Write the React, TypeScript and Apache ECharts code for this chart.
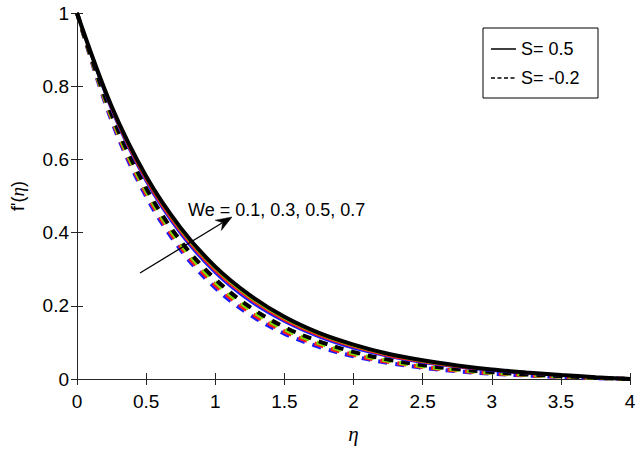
import React, { useEffect, useRef } from "react";
import * as echarts from "echarts";

const eta = [0, 0.25, 0.5, 0.75, 1, 1.25, 1.5, 1.75, 2, 2.25, 2.5, 2.75, 3, 3.25, 3.5, 3.75, 4];

// S = 0.5 (solid), We = 0.1, 0.3, 0.5, 0.7
const solidBlue = [1, 0.733, 0.538, 0.395, 0.289, 0.212, 0.156, 0.114, 0.083, 0.061, 0.044, 0.032, 0.022, 0.015, 0.009, 0.0045, 0];
const solidRed = [1, 0.737, 0.543, 0.401, 0.295, 0.218, 0.16, 0.118, 0.087, 0.063, 0.046, 0.033, 0.024, 0.016, 0.01, 0.005, 0];
const solidGreen = [1, 0.741, 0.549, 0.407, 0.301, 0.223, 0.165, 0.122, 0.09, 0.066, 0.048, 0.035, 0.025, 0.017, 0.01, 0.005, 0];
const solidBlack = [1, 0.745, 0.554, 0.413, 0.307, 0.229, 0.17, 0.126, 0.094, 0.069, 0.051, 0.037, 0.026, 0.018, 0.011, 0.005, 0];

// S = -0.2 (dashed), We = 0.1, 0.3, 0.5, 0.7
const dashBlue = [1, 0.706, 0.499, 0.353, 0.249, 0.176, 0.124, 0.088, 0.062, 0.044, 0.031, 0.021, 0.0144, 0.0095, 0.0058, 0.0026, 0];
const dashRed = [1, 0.712, 0.507, 0.361, 0.257, 0.183, 0.13, 0.093, 0.066, 0.047, 0.033, 0.023, 0.016, 0.0104, 0.0064, 0.003, 0];
const dashGreen = [1, 0.717, 0.514, 0.369, 0.265, 0.19, 0.136, 0.098, 0.07, 0.05, 0.035, 0.025, 0.017, 0.0115, 0.007, 0.0033, 0];
const dashBlack = [1, 0.723, 0.522, 0.377, 0.273, 0.197, 0.142, 0.103, 0.074, 0.053, 0.038, 0.027, 0.019, 0.0125, 0.0077, 0.0036, 0];

const legendLabels = ["S= 0.5", "S= -0.2"];
const annotation = "We = 0.1, 0.3, 0.5, 0.7";

const BLUE = "#1a1aff";
const RED = "#ff1a1a";
const GREEN = "#7ddc00";
const BLACK = "#000000";
const AXIS = "#262626";
const FONT = "'Liberation Sans', Arial, sans-serif";

function pairs(ys: number[]) {
  return eta.map((x, i) => [x, ys[i]]);
}

function solid(name: string, ys: number[], color: string, width: number) {
  return {
    name,
    type: "line",
    data: pairs(ys),
    showSymbol: false,
    smooth: 0.35,
    lineStyle: { color, width, type: "solid" },
    silent: true,
  };
}

function dashed(name: string, ys: number[], color: string) {
  return {
    name,
    type: "line",
    data: pairs(ys),
    showSymbol: false,
    smooth: 0.35,
    lineStyle: { color, width: 4, type: [9, 8] },
    silent: true,
  };
}

export default function App() {
  const ref = useRef<HTMLDivElement>(null);
  useEffect(() => {
    document.body.style.margin = "0";
    if (!ref.current) return;
    const chart = echarts.init(ref.current, undefined, { renderer: "svg" });
    const axisCommon = {
      axisLine: { show: true, lineStyle: { color: AXIS, width: 1 } },
      axisTick: { show: true, inside: true, length: 6, lineStyle: { color: AXIS } },
      splitLine: { show: false },
    };
    const tickFmt = (v: number) => String(Math.round(v * 10) / 10);
    chart.setOption({
      animation: false,
      backgroundColor: "#ffffff",
      grid: { left: 70, right: 10, top: 13, bottom: 66, containLabel: false },
      xAxis: [
        {
          type: "value",
          min: 0,
          max: 4,
          interval: 0.5,
          position: "bottom",
          ...axisCommon,
          axisLabel: { color: "#000", fontSize: 19, fontFamily: FONT, margin: 13, formatter: tickFmt },
          name: "η",
          nameLocation: "middle",
          nameGap: 44,
          nameTextStyle: { color: "#000", fontSize: 21, fontStyle: "italic", fontFamily: "'Liberation Serif', 'DejaVu Serif', serif" },
        },
        {
          type: "value",
          min: 0,
          max: 4,
          interval: 0.5,
          position: "top",
          ...axisCommon,
          axisLabel: { show: false },
        },
      ],
      yAxis: [
        {
          type: "value",
          min: 0,
          max: 1,
          interval: 0.2,
          position: "left",
          ...axisCommon,
          axisLabel: { color: "#000", fontSize: 19, fontFamily: FONT, margin: 8, formatter: tickFmt },
          name: "{a|f'(}{b|η}{a|)}",
          nameLocation: "middle",
          nameGap: 50,
          nameTextStyle: {
            color: "#000",
            rich: {
              a: { fontSize: 18, fontFamily: FONT, color: "#000" },
              b: { fontSize: 19, fontStyle: "italic", fontFamily: "'Liberation Serif', 'DejaVu Serif', serif", color: "#000" },
            },
          },
        },
        {
          type: "value",
          min: 0,
          max: 1,
          interval: 0.2,
          position: "right",
          ...axisCommon,
          axisLabel: { show: false },
        },
      ],
      series: [
        dashed("S=-0.2 We=0.1", dashBlue, BLUE),
        dashed("S=-0.2 We=0.3", dashRed, RED),
        dashed("S=-0.2 We=0.5", dashGreen, GREEN),
        dashed("S=-0.2 We=0.7", dashBlack, BLACK),
        solid("S=0.5 We=0.1", solidBlue, BLUE, 2),
        solid("S=0.5 We=0.3", solidRed, RED, 2),
        solid("S=0.5 We=0.5", solidGreen, GREEN, 2),
        solid("S=0.5 We=0.7", solidBlack, BLACK, 4),
      ],
      graphic: [
        {
          type: "rect",
          shape: { x: 483, y: 28, width: 115, height: 70 },
          style: { fill: "#fff", stroke: "#000", lineWidth: 1 },
          z: 100,
        },
        {
          type: "line",
          shape: { x1: 491, y1: 49, x2: 516, y2: 49 },
          style: { stroke: "#000", lineWidth: 1.5 },
          z: 101,
        },
        {
          type: "line",
          shape: { x1: 491, y1: 78, x2: 516, y2: 78 },
          style: { stroke: "#000", lineWidth: 1.5, lineDash: [4, 2.5] },
          z: 101,
        },
        {
          type: "text",
          x: 521,
          y: 49,
          style: { text: legendLabels[0], fill: "#000", fontSize: 18, fontFamily: FONT, textVerticalAlign: "middle", textAlign: "left" },
          z: 101,
        },
        {
          type: "text",
          x: 521,
          y: 78,
          style: { text: legendLabels[1], fill: "#000", fontSize: 18, fontFamily: FONT, textVerticalAlign: "middle", textAlign: "left" },
          z: 101,
        },
        {
          type: "line",
          shape: { x1: 140, y1: 273, x2: 222, y2: 223 },
          style: { stroke: "#000", lineWidth: 1.3 },
          z: 101,
        },
        {
          type: "polygon",
          shape: { points: [[232, 217], [221.4, 230.4], [222.6, 222.7], [215.2, 220.2]] },
          style: { fill: "#000", stroke: "#000", lineWidth: 0.5 },
          z: 101,
        },
        {
          type: "text",
          x: 188,
          y: 210,
          style: { text: annotation, fill: "#000", fontSize: 18, fontFamily: FONT, textVerticalAlign: "middle", textAlign: "left" },
          z: 101,
        },
      ],
    });
    return () => chart.dispose();
  }, []);
  return <div ref={ref} style={{ width: 640, height: 449 }} />;
}
